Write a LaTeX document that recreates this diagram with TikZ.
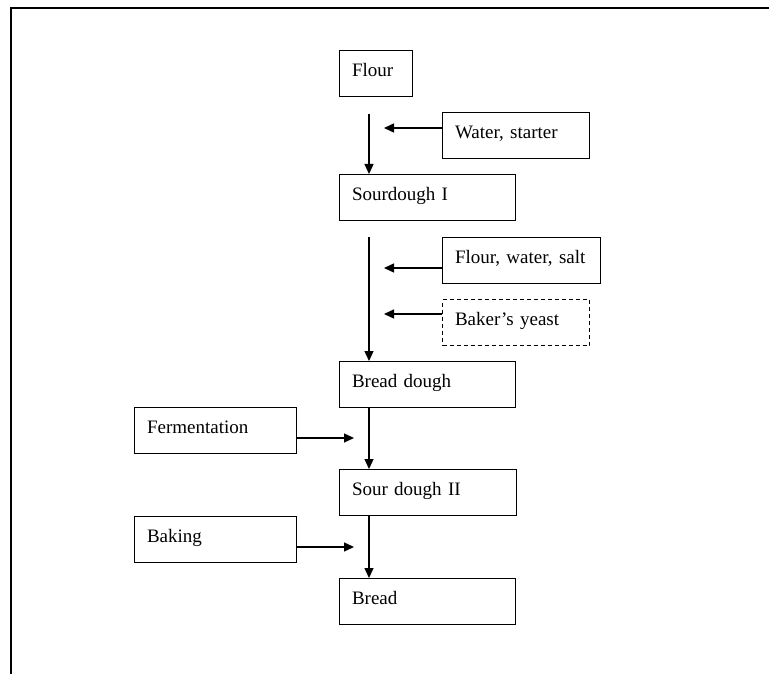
\documentclass[tikz,border=0pt]{standalone}
\usepackage{fontspec}
\setmainfont{Liberation Serif}
\usetikzlibrary{arrows.meta}
\tikzset{
  box/.style={draw, line width=1pt, anchor=north west, inner xsep=12.5pt, inner ysep=0pt,
    text height=26pt, text depth=20pt, align=left, text width=#1,
    font=\fontsize{19}{22}\selectfont},
  optbox/.style={box=#1, dash pattern=on 4pt off 3pt},
  flow/.style={-{Triangle[length=10pt,width=9pt]}, line width=1.3pt},
}

\begin{document}
\begin{tikzpicture}[x=1pt, y=-1pt]
		%%%%% frame %%%%%
		\useasboundingbox (0,0) rectangle (769,674);
		\draw[line width=2.5pt] (769,8) -- (11,8) -- (11,674);
		
		%%%%% main line %%%%%
		\node[box=48pt]  (flour)  at (339,50)  {Flour};
		\node[box=151pt] (sour1)  at (339,174) {Sourdough I};
		\node[box=151pt] (bdough) at (339,361) {Bread dough};
		\node[box=152pt] (sour2)  at (339,469) {Sour dough II};
		\node[box=151pt] (bread)  at (339,578) {Bread};
		
		%%%%% additions %%%%%
		\node[box=122pt]    (water)  at (442,112) {Water, starter};
		\node[box=133pt]    (fws)    at (442,237) {Flour, water, salt};
		\node[optbox=122pt] (yeast)  at (442,299) {Baker's yeast};
		\node[box=137pt]    (ferm)   at (134,407) {Fermentation};
		\node[box=137pt]    (baking) at (134,516) {Baking};
		
		\coordinate (in1) at (384,128);
		\coordinate (in2) at (384,268);
		\coordinate (in3) at (384,314);
		\coordinate (in4) at (354,438);
		\coordinate (in5) at (354,547);
		
		%%%%% arrows %%%%%
		\draw[flow] ([shift={(30,17)}]flour.south west) -- ([xshift=30pt]sour1.north west);
		\draw[flow] ([shift={(30,16)}]sour1.south west) -- ([xshift=30pt]bdough.north west);
		\draw[flow] ([xshift=30pt]bdough.south west) -- ([xshift=30pt]sour2.north west);
		\draw[flow] ([xshift=30pt]sour2.south west) -- ([xshift=30pt]bread.north west);
		
		\draw[flow] (water.west |- in1) -- (in1);
		\draw[flow] (fws.west |- in2) -- (in2);
		\draw[flow] (yeast.west |- in3) -- (in3);
		\draw[flow] (ferm.east |- in4) -- (in4);
		\draw[flow] (baking.east |- in5) -- (in5);
		
	\end{tikzpicture}
\end{document}
